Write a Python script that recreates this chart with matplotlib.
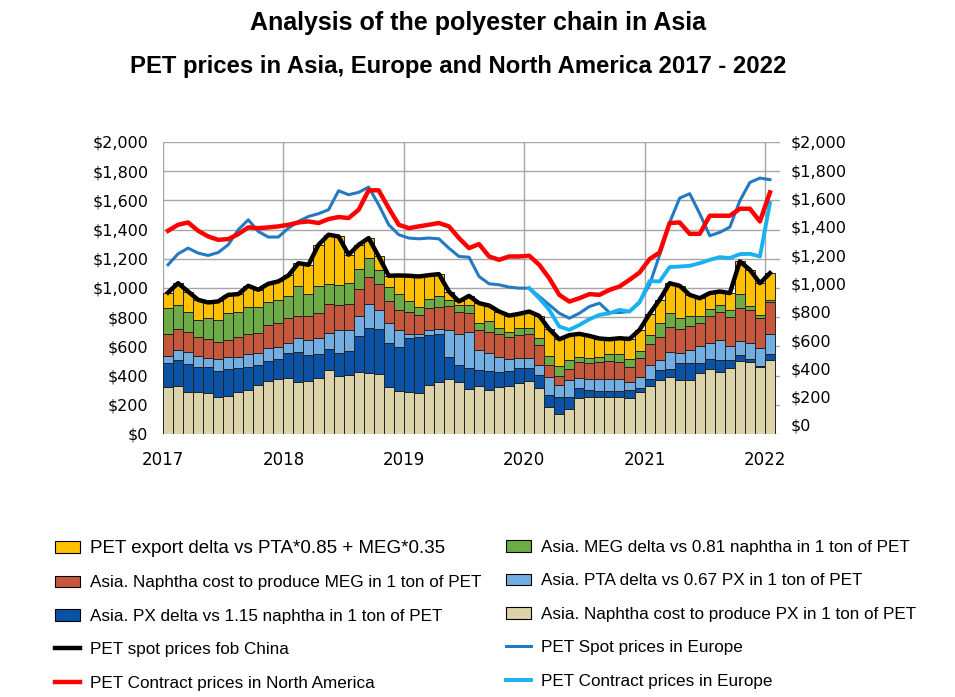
import numpy as np
import matplotlib
matplotlib.use("Agg")
import matplotlib.pyplot as plt
from matplotlib.patches import Patch
from matplotlib.lines import Line2D

# months Jan 2017 .. Jan 2022
years = ["2017", "2018", "2019", "2020", "2021", "2022"]
n_months = 61

# stacked components, US$/t
naphtha_px = [325, 329, 290, 290, 279, 256, 263, 290, 302, 336, 366, 375,
              382, 354, 366, 382, 439, 400, 405, 427, 416, 411, 325, 297,
              290, 279, 336, 354, 375, 359, 309, 329, 302, 320, 329, 347,
              366, 313, 187, 137, 169, 245, 256, 256, 251, 251, 249, 286,
              329, 370, 389, 370, 370, 421, 443, 423, 450, 503, 496, 457,
              507]
px_delta = [160, 178, 188, 172, 183, 178, 185, 163, 160, 137, 137, 139,
            176, 211, 176, 167, 142, 158, 164, 245, 313, 307, 301, 297,
            366, 388, 343, 332, 155, 114, 141, 110, 132, 107, 105, 103,
            84, 92, 80, 119, 87, 68, 46, 41, 46, 46, 53, 27,
            46, 69, 54, 115, 119, 64, 69, 84, 57, 39, 16, 9,
            42]
pta_delta = [52, 67, 87, 75, 61, 78, 82, 77, 87, 80, 84, 85,
             64, 91, 103, 107, 114, 151, 140, 133, 162, 128, 137, 119,
             30, 19, 34, 32, 183, 213, 252, 137, 119, 103, 78, 69,
             69, 68, 126, 80, 114, 69, 75, 78, 78, 78, 57, 80,
             98, 68, 122, 73, 87, 118, 110, 138, 96, 98, 110, 121,
             137]
naphtha_meg = [149, 144, 132, 130, 126, 117, 115, 137, 137, 142, 160, 164,
               171, 153, 160, 171, 196, 176, 182, 187, 183, 183, 145, 137,
               153, 130, 149, 155, 165, 153, 130, 137, 149, 156, 155, 160,
               167, 137, 80, 62, 73, 114, 112, 121, 128, 121, 103, 126,
               144, 160, 166, 162, 165, 160, 187, 194, 197, 222, 224, 206,
               215]
meg_delta = [176, 167, 137, 115, 144, 153, 182, 172, 187, 174, 154, 156,
             149, 206, 155, 188, 138, 137, 142, 137, 131, 96, 98, 110,
             69, 57, 62, 69, 41, 46, 53, 50, 75, 39, 35, 46,
             39, 46, 62, 68, 64, 34, 30, 30, 46, 53, 50, 52,
             62, 96, 96, 73, 64, 46, 46, 46, 50, 98, 32, 23,
             18]
pet_export_delta = [107, 148, 142, 137, 108, 126, 126, 119, 142, 119, 128, 126,
                    144, 155, 199, 281, 336, 331, 195, 167, 137, 91, 78, 126,
                    176, 206, 164, 153, 57, 23, 61, 133, 103, 114, 109, 98,
                    114, 153, 183, 183, 170, 156, 153, 128, 100, 107, 139, 142,
                    144, 156, 206, 222, 148, 121, 110, 91, 115, 222, 247, 217,
                    183]

# price lines, US$/t
spot_china = [969, 1033, 976, 919, 901, 908, 953, 958, 1015, 988, 1029, 1045,
              1086, 1170, 1159, 1296, 1365, 1353, 1228, 1296, 1342, 1216, 1084, 1086,
              1084, 1079, 1088, 1095, 976, 908, 946, 896, 880, 839, 811, 823,
              839, 809, 718, 649, 677, 686, 672, 654, 649, 656, 651, 713,
              823, 919, 1033, 1015, 953, 930, 965, 976, 965, 1182, 1125, 1033,
              1102]
spot_europe = [1159, 1234, 1273, 1239, 1223, 1243, 1296, 1399, 1467, 1387, 1349, 1349,
               1410, 1456, 1490, 1509, 1536, 1666, 1639, 1655, 1691, 1570, 1433, 1365,
               1342, 1337, 1342, 1337, 1273, 1216, 1211, 1079, 1029, 1022, 1006, 999,
               999, 942, 885, 827, 793, 827, 873, 896, 832, 832, 839, 907,
               1022, 1227, 1449, 1616, 1646, 1509, 1358, 1381, 1417, 1598, 1723, 1753,
               1742]
contract_na = [1392, 1433, 1449, 1392, 1353, 1330, 1335, 1369, 1415, 1410, 1415, 1422,
               1433, 1449, 1456, 1445, 1472, 1486, 1479, 1536, 1669, 1669, 1547, 1433,
               1410, 1422, 1433, 1445, 1422, 1342, 1273, 1301, 1216, 1193, 1216, 1216,
               1221, 1159, 1067, 953, 907, 930, 958, 953, 987, 1010, 1056, 1106,
               1198, 1243, 1445, 1449, 1371, 1371, 1495, 1495, 1495, 1543, 1543, 1456,
               1655]
contract_europe = [np.nan] * 36 + [
    999, 930, 850, 736, 713, 747, 786, 816, 827, 850, 839, 901,
    1048, 1045, 1143, 1147, 1152, 1170, 1193, 1211, 1205, 1232, 1234, 1216,
    1582]

stack = [
    (naphtha_px, "#DDD3AA", "Asia. Naphtha cost to produce PX in 1 ton of PET"),
    (px_delta, "#0A52A5", "Asia. PX delta vs 1.15 naphtha in 1 ton of PET"),
    (pta_delta, "#72AEE2", "Asia. PTA delta vs 0.67 PX in 1 ton of PET"),
    (naphtha_meg, "#C4573C", "Asia. Naphtha cost to produce MEG in 1 ton of PET"),
    (meg_delta, "#6CAB45", "Asia. MEG delta vs 0.81 naphtha in 1 ton of PET"),
    (pet_export_delta, "#FFC000", "PET export delta vs PTA*0.85 + MEG*0.35"),
]

plt.rcParams["font.family"] = ["DejaVu Sans"]
fig = plt.figure(figsize=(9.55, 6.97), dpi=100)
ax = fig.add_axes([163 / 955, 1 - 434 / 697, 617 / 955, 292 / 697])

x = np.arange(n_months) + 0.5
bottom = np.zeros(n_months)
for vals, col, lab in stack:
    ax.bar(x, vals, width=1.0, bottom=bottom, color=col, edgecolor="#222222",
           linewidth=0.7, zorder=2)
    bottom += np.array(vals)

ax.plot(x, spot_china, color="black", lw=3.2, zorder=4)
ax.plot(x, spot_europe, color="#2379C2", lw=2.2, zorder=5)
ax.plot(x, contract_europe, color="#1AB2EE", lw=2.8, zorder=5)
ax.plot(x, contract_na, color="#FF0000", lw=3.2, zorder=6)

ax.set_xlim(0, 61.5)
ax.set_ylim(0, 2000)
ax.set_yticks(range(0, 2001, 200))
ax.set_yticklabels([f"${v:,}" for v in range(0, 2001, 200)], fontsize=11.5)
ax.set_xticks(range(0, 61, 12))
ax.set_xticklabels(years, fontsize=12)
ax.tick_params(axis="y", length=0, pad=10.5)
ax.tick_params(axis="x", length=0, pad=12)
ax.grid(True, color="#A6A6A6", lw=1.0, zorder=0)
ax.set_axisbelow(True)
for s in ax.spines.values():
    s.set_visible(False)

ax2 = ax.twinx()
ax2.set_ylim(-64, 2000)
ax2.set_yticks(range(0, 2001, 200))
ax2.set_yticklabels([f"${v:,}" for v in range(0, 2001, 200)], fontsize=11.5)
ax2.tick_params(axis="y", length=0, pad=8)
for s in ax2.spines.values():
    s.set_visible(False)

fig.text(0.5, 1 - 23 / 697, "Analysis of the polyester chain in Asia",
         ha="center", va="center", fontsize=18, fontweight="bold",
         family="Liberation Sans")
fig.text(458.5 / 955, 1 - 67 / 697, "PET prices in Asia, Europe and North America 2017 - 2022",
         ha="center", va="center", fontsize=17.2, fontweight="bold",
         family="Liberation Sans")

def patch(i):
    return Patch(facecolor=stack[i][1], edgecolor="black", linewidth=0.8)

left_h = [patch(5), patch(3), patch(1),
          Line2D([], [], color="black", lw=3.2),
          Line2D([], [], color="#FF0000", lw=3.2)]
left_l = [stack[5][2], stack[3][2], stack[1][2],
          "PET spot prices fob China", "PET Contract prices in North America"]
right_h = [patch(4), patch(2), patch(0),
           Line2D([], [], color="#2379C2", lw=2.2),
           Line2D([], [], color="#1AB2EE", lw=2.8)]
right_l = [stack[4][2], stack[2][2], stack[0][2],
           "PET Spot prices in Europe", "PET Contract prices in Europe"]

leg_kw = dict(loc="upper left", frameon=False, borderpad=0, borderaxespad=0,
              handlelength=1.45, handleheight=0.65, handletextpad=0.6,
              labelspacing=1.08, prop={"family": "Liberation Sans", "size": 12.3})
lg1 = fig.legend(left_h, left_l, bbox_to_anchor=(55 / 955, 1 - 540 / 697), **leg_kw)
lg2 = fig.legend(right_h, right_l, bbox_to_anchor=(506 / 955, 1 - 540 / 697), **leg_kw)
lg1.get_texts()[0].set_fontsize(13.5)

fig.savefig("out.png", dpi=100)
